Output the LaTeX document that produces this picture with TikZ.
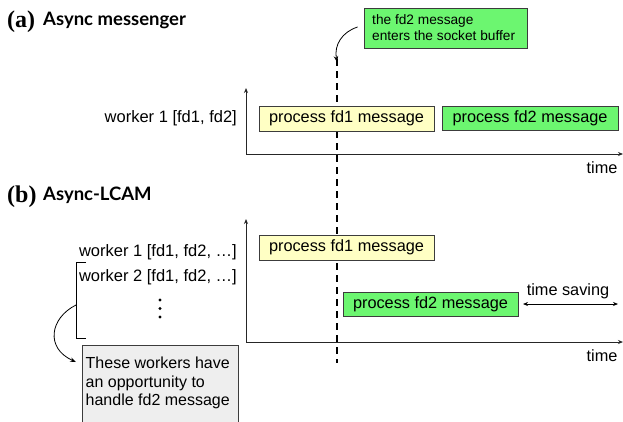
\documentclass[tikz,border=0pt]{standalone}
\usepackage{fontspec}
\setmainfont{Liberation Sans}
\newfontfamily\titlefont{Lato}
\newfontfamily\tagfont{Liberation Serif}
\usetikzlibrary{arrows.meta}
\definecolor{boxgreen}{RGB}{108,246,112}
\definecolor{boxyellow}{RGB}{255,255,196}
\definecolor{boxgray}{RGB}{238,238,238}
\definecolor{edge}{RGB}{60,60,60}
\tikzset{
  msgbox/.style={draw=edge, line width=0.8pt, inner sep=0pt, minimum height=25pt,
    font=\fontsize{16.3}{18}\selectfont},
  yellowbox/.style={msgbox, fill=boxyellow},
  greenbox/.style={msgbox, fill=boxgreen},
  axis/.style={line width=1pt, draw=black!85, -{Stealth[length=5pt,width=4pt]}},
  worker/.style={anchor=east, inner sep=0pt, font=\fontsize{16.5}{18}\selectfont},
  timelabel/.style={inner sep=0pt, font=\fontsize{16.3}{18}\selectfont},
  paneltag/.style={anchor=west, inner sep=0pt, font=\tagfont\bfseries\fontsize{24}{26}\selectfont},
  paneltitle/.style={anchor=west, inner sep=0pt, font=\titlefont\bfseries\fontsize{18.5}{20}\selectfont},
  eventline/.style={line width=1.2pt, dash pattern=on 7pt off 5pt},
  pointer/.style={line width=0.8pt, -{Stealth[length=6pt,width=4.5pt]}}
}
\begin{document}
\begin{tikzpicture}[x=1pt,y=-1pt]
\useasboundingbox[fill=white] (0,0) rectangle (623,421);

% moment the fd2 message arrives (drawn first so the boxes cover it)
\coordinate (evtop) at (337,62);
\coordinate (evbot) at (337,363);
\draw[eventline] ([yshift=3pt]evtop) -- (evbot);

% ---------- (a) Async messenger ----------
\node[paneltag] (taga) at (7,22) {(a)};
\node[paneltitle] (titlea) at (43,20) {Async messenger};

\coordinate (oa) at (246,154);
\coordinate (ya) at (246,88);
\coordinate (xa) at (623,154);
\draw[axis] (oa) -- (ya);
\draw[axis] (oa) -- (xa);
\node[timelabel] (timea) at (602,168) {time};

\node[worker] (w1a) at (237,118) {worker 1 [fd1, fd2]};
\node[yellowbox, minimum width=175pt] (p1a) at (346.5,118.5) {process fd1 message};
\node[greenbox, minimum width=176pt, minimum height=24pt] (p2a) at (530,118) {process fd2 message};

% note about the fd2 arrival
\node[draw=edge, line width=0.8pt, fill=boxgreen, minimum width=163pt, minimum height=40pt,
      inner sep=0pt] (note) at (445.5,28) {};
\node[anchor=west, align=left, inner sep=0pt, font=\fontsize{13.7}{15.5}\selectfont]
  (notetext) at (372,27.5) {the fd2 message\\enters the socket buffer};
\draw[pointer] ([xshift=-6pt,yshift=1pt]note.west) .. controls (342,32) and (334,45) .. (evtop);

% ---------- (b) Async-LCAM ----------
\node[paneltag] (tagb) at (7,197) {(b)};
\node[paneltitle] (titleb) at (43,195) {Async-LCAM};

\coordinate (ob) at (246,342);
\coordinate (yb) at (246,219);
\coordinate (xb) at (623,342);
\draw[axis] (ob) -- (yb);
\draw[axis] (ob) -- (xb);
\node[timelabel] (timeb) at (602,356) {time};

\node[worker] (w1b) at (237,252) {worker 1 [fd1, fd2, \dots]};
\node[worker] (w2b) at (237,277) {worker 2 [fd1, fd2, \dots]};
\foreach \yy in {300,308.5,317}
  \fill (160,\yy) circle (1.6pt);

\node[yellowbox, minimum width=175pt] (p1b) at (346.5,247.5) {process fd1 message};
\node[greenbox, minimum width=175pt, minimum height=24pt] (p2b) at (430.5,304) {process fd2 message};

% time saved by handing fd2 to another worker
\coordinate (tsl) at (523,304);
\coordinate (tsr) at (618,304);
\draw[line width=0.8pt, {Stealth[length=5pt,width=4pt]}-{Stealth[length=5pt,width=4pt]}] (tsl) -- (tsr);
\node[timelabel] (tslabel) at (568,291) {time saving};

% bracket over the other workers
\coordinate (brt) at (76,262);
\coordinate (brb) at (76,338);
\draw[line width=0.8pt] ([xshift=10pt]brt) -- (brt) -- (brb) -- ([xshift=10pt]brb);
\coordinate (brm) at (76,305);

\node[draw=edge, line width=0.8pt, fill=boxgray, anchor=north west, minimum width=156pt,
      minimum height=85pt, inner sep=0pt] (note2) at (82,345) {};
\node[anchor=north west, align=left, inner sep=0pt, font=\fontsize{16}{18.3}\selectfont]
  (note2text) at (85.5,357) {These workers have\\an opportunity to\\handle fd2 message};

\draw[pointer] (brm) .. controls (50,318) and (45,348) .. (76,362);
\end{tikzpicture}
\end{document}
